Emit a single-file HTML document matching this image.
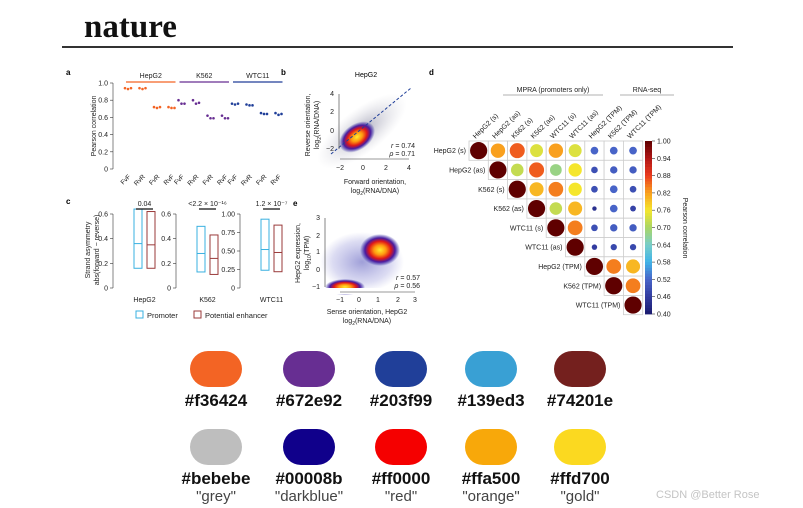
<!DOCTYPE html>
<html><head><meta charset="utf-8"><style>
body{margin:0;background:#fff;width:803px;height:508px;overflow:hidden;font-family:"Liberation Sans",sans-serif}
svg{position:absolute;left:0;top:0}
</style></head><body>
<svg id="s" width="803" height="508" viewBox="0 0 803 508" xmlns="http://www.w3.org/2000/svg" font-family="Liberation Sans, sans-serif">
<defs>
<radialGradient id="gb" cx="50%" cy="50%" r="50%"><stop offset="0" stop-color="#9a9ab0" stop-opacity="0.8"/><stop offset="1" stop-color="#d0d0d8" stop-opacity="0"/></radialGradient>
<radialGradient id="hot" cx="50%" cy="50%" r="50%"><stop offset="0" stop-color="#ffee30"/><stop offset="0.3" stop-color="#ff9a10"/><stop offset="0.55" stop-color="#e01818"/><stop offset="0.75" stop-color="#4a1aa0"/><stop offset="1" stop-color="#2020a0" stop-opacity="0"/></radialGradient>
<radialGradient id="haze" cx="50%" cy="50%" r="50%"><stop offset="0" stop-color="#2a2aa8" stop-opacity="0.45"/><stop offset="0.7" stop-color="#5050c0" stop-opacity="0.2"/><stop offset="1" stop-color="#6060c0" stop-opacity="0"/></radialGradient>
</defs>
<text x="84" y="37" font-family="Liberation Serif, serif" font-weight="bold" font-size="33" fill="#111">nature</text>
<line x1="62" y1="47" x2="733" y2="47" stroke="#333" stroke-width="2"/>
<g id="pa"></g>
<g id="pb">
 <text x="281" y="75" font-size="8" font-weight="bold">b</text>
 <text x="366" y="77" font-size="7" text-anchor="middle">HepG2</text>
 <ellipse cx="362" cy="131" rx="54" ry="22" transform="rotate(-38 362 131)" fill="url(#gb)"/>
 <ellipse cx="357" cy="137" rx="20" ry="13" transform="rotate(-35 357 137)" fill="url(#hot)"/>
 <line x1="331" y1="154" x2="411" y2="88" stroke="#203f99" stroke-width="1" stroke-dasharray="3,2"/>
 <g font-size="7" fill="#222">
 <line x1="339" y1="94" x2="339" y2="149" stroke="#333" stroke-width="0.6"/>
 <text x="334" y="96" text-anchor="end">4</text><text x="334" y="114" text-anchor="end">2</text><text x="334" y="133" text-anchor="end">0</text><text x="334" y="151" text-anchor="end">−2</text>
 <line x1="340" y1="159" x2="409" y2="159" stroke="#333" stroke-width="0.6"/>
 <text x="340" y="170" text-anchor="middle">−2</text><text x="363" y="170" text-anchor="middle">0</text><text x="386" y="170" text-anchor="middle">2</text><text x="409" y="170" text-anchor="middle">4</text>
 <text x="375" y="184" text-anchor="middle">Forward orientation,</text>
 <text x="375" y="193" text-anchor="middle">log<tspan font-size="5" dy="2">2</tspan><tspan dy="-2">(RNA/DNA)</tspan></text>
 <text transform="translate(310 125) rotate(-90)" text-anchor="middle">Reverse orientation,</text>
 <text transform="translate(319 125) rotate(-90)" text-anchor="middle">log<tspan font-size="5" dy="2">2</tspan><tspan dy="-2">(RNA/DNA)</tspan></text>
 <text x="415" y="148" text-anchor="end"><tspan font-style="italic">r</tspan> = 0.74</text>
 <text x="415" y="156" text-anchor="end"><tspan font-style="italic">ρ</tspan> = 0.71</text>
 </g>
</g>
<g id="pe">
 <text x="293" y="206" font-size="8" font-weight="bold">e</text>
 <ellipse cx="362" cy="262" rx="42" ry="30" fill="url(#haze)"/>
 <ellipse cx="380" cy="250" rx="20" ry="16" fill="url(#hot)"/>
 <ellipse cx="345" cy="287" rx="20" ry="8" fill="url(#hot)"/>
 <rect x="318" y="288" width="110" height="6" fill="#fff"/>
 <g font-size="7" fill="#222">
 <line x1="325" y1="218" x2="325" y2="287" stroke="#333" stroke-width="0.6"/>
 <text x="320" y="220" text-anchor="end">3</text><text x="320" y="238" text-anchor="end">2</text><text x="320" y="254" text-anchor="end">1</text><text x="320" y="272" text-anchor="end">0</text><text x="320" y="289" text-anchor="end">−1</text>
 <line x1="340" y1="292" x2="415" y2="292" stroke="#333" stroke-width="0.6"/>
 <text x="340" y="302" text-anchor="middle">−1</text><text x="359" y="302" text-anchor="middle">0</text><text x="378" y="302" text-anchor="middle">1</text><text x="398" y="302" text-anchor="middle">2</text><text x="415" y="302" text-anchor="middle">3</text>
 <text x="367" y="314" text-anchor="middle">Sense orientation, HepG2</text>
 <text x="367" y="323" text-anchor="middle">log<tspan font-size="5" dy="2">2</tspan><tspan dy="-2">(RNA/DNA)</tspan></text>
 <text transform="translate(300 253) rotate(-90)" text-anchor="middle">HepG2 expression,</text>
 <text transform="translate(309 253) rotate(-90)" text-anchor="middle">log<tspan font-size="5" dy="2">10</tspan><tspan dy="-2">(TPM)</tspan></text>
 <text x="420" y="280" text-anchor="end"><tspan font-style="italic">r</tspan> = 0.57</text>
 <text x="420" y="288" text-anchor="end"><tspan font-style="italic">ρ</tspan> = 0.56</text>
 </g>
</g>
<g id="pc"></g>
<g id="pd"></g>

<g font-weight="bold" font-size="17" text-anchor="middle" fill="#111">
 <rect x="190" y="351" width="52" height="36" rx="18" fill="#f36424"/>
 <rect x="283" y="351" width="52" height="36" rx="18" fill="#672e92"/>
 <rect x="375" y="351" width="52" height="36" rx="18" fill="#203f99"/>
 <rect x="465" y="351" width="52" height="36" rx="18" fill="#39a0d4"/>
 <rect x="554" y="351" width="52" height="36" rx="18" fill="#74201e"/>
 <text x="216" y="406">#f36424</text><text x="309" y="406">#672e92</text><text x="401" y="406">#203f99</text><text x="491" y="406">#139ed3</text><text x="580" y="406">#74201e</text>
 <rect x="190" y="429" width="52" height="36" rx="18" fill="#bebebe"/>
 <rect x="283" y="429" width="52" height="36" rx="18" fill="#10008b"/>
 <rect x="375" y="429" width="52" height="36" rx="18" fill="#f50000"/>
 <rect x="465" y="429" width="52" height="36" rx="18" fill="#f8a80a"/>
 <rect x="554" y="429" width="52" height="36" rx="18" fill="#fbd920"/>
 <text x="216" y="484">#bebebe</text><text x="309" y="484">#00008b</text><text x="401" y="484">#ff0000</text><text x="491" y="484">#ffa500</text><text x="580" y="484">#ffd700</text>
 <g font-weight="normal" font-size="15" fill="#444">
 <text x="216" y="501">"grey"</text><text x="309" y="501">"darkblue"</text><text x="401" y="501">"red"</text><text x="491" y="501">"orange"</text><text x="580" y="501">"gold"</text>
 </g>
</g>
<text x="656" y="498" font-size="11" fill="#c4c4c4">CSDN @Better Rose</text>
</svg>
<script>
const NS="http://www.w3.org/2000/svg";
function mk(p,t,a,txt){const e=document.createElementNS(NS,t);for(const k in a)e.setAttribute(k,a[k]);if(txt!==undefined)e.textContent=txt;p.appendChild(e);return e;}

// ---- Panel a data
const aGroups=["HepG2","K562","WTC11"];
const aGroupColors=["#f36424","#672e92","#203f99"];
const aCats=["FvF","RvR","FvR","RvF"];
const aVals=[
 [[0.94,0.93,0.94],[0.94,0.93,0.94],[0.72,0.71,0.72],[0.72,0.71,0.71]],
 [[0.80,0.76,0.76],[0.80,0.76,0.77],[0.62,0.59,0.59],[0.62,0.59,0.59]],
 [[0.76,0.75,0.76],[0.75,0.74,0.74],[0.65,0.64,0.64],[0.65,0.63,0.64]]];
const aTicks=[0,0.2,0.4,0.6,0.8,1.0];

// ---- Panel c data
const cGroups=["HepG2","K562","WTC11"];
const cPvals=["0.04","<2.2 × 10⁻¹⁶","1.2 × 10⁻⁷"];
const cMax=[0.6,0.6,1.0];
const cTicks=[[0,0.2,0.4,0.6],[0,0.2,0.4,0.6],[0,0.25,0.5,0.75,1.0]];
const cPromoter=[[0.16,0.36,0.64],[0.13,0.28,0.50],[0.24,0.52,0.93]];
const cEnhancer=[[0.16,0.35,0.62],[0.11,0.24,0.43],[0.22,0.48,0.85]];

// ---- Panel d data
const dLabels=["HepG2 (s)","HepG2 (as)","K562 (s)","K562 (as)","WTC11 (s)","WTC11 (as)","HepG2 (TPM)","K562 (TPM)","WTC11 (TPM)"];
const dCorr=[
 [1,0.82,0.86,0.74,0.82,0.74,0.52,0.52,0.52],
 [0,1,0.72,0.86,0.68,0.76,0.49,0.51,0.51],
 [0,0,1,0.80,0.84,0.76,0.49,0.52,0.49],
 [0,0,0,1,0.72,0.80,0.44,0.52,0.47],
 [0,0,0,0,1,0.84,0.49,0.51,0.51],
 [0,0,0,0,0,1,0.46,0.48,0.48],
 [0,0,0,0,0,0,1,0.84,0.80],
 [0,0,0,0,0,0,0,1,0.84],
 [0,0,0,0,0,0,0,0,1]];
const dBarTicks=[1.00,0.94,0.88,0.82,0.76,0.70,0.64,0.58,0.52,0.46,0.40];

// ===== draw panel a
(function(){
 const g=document.getElementById('pa');
 const y=v=>169-v*86;
 const x=(gi,ci)=>128+gi*53.5+ci*14.5;
 mk(g,'text',{x:66,y:75,'font-size':8,'font-weight':'bold'},'a');
 mk(g,'line',{x1:113,y1:y(1),x2:113,y2:y(0),stroke:'#333','stroke-width':0.6});
 aTicks.forEach(t=>{
  mk(g,'line',{x1:110,x2:113,y1:y(t),y2:y(t),stroke:'#333','stroke-width':0.6});
  mk(g,'text',{x:108,y:y(t)+2.5,'font-size':7,'text-anchor':'end',fill:'#222'},t===0?'0':t.toFixed(1));
 });
 mk(g,'text',{transform:'translate(96 126) rotate(-90)','font-size':7,'text-anchor':'middle',fill:'#222'},'Pearson correlation');
 aGroups.forEach((gn,gi)=>{
  const l=mk(g,'line',{x1:x(gi,0)-2,x2:x(gi,3)+4,y1:82,y2:82,stroke:aGroupColors[gi],'stroke-width':1.2});
  
  
  mk(g,'text',{x:(x(gi,0)+x(gi,3))/2+1,y:78,'font-size':7,'text-anchor':'middle',fill:'#222'},gn);
  aCats.forEach((c,ci)=>{
   aVals[gi][ci].forEach((v,k)=>{
    const off=[-3,0,3][k];
    const d=mk(g,'circle',{cx:x(gi,ci)+off,cy:y(v),r:1.3,fill:aGroupColors[gi]});
    
    
   });
   mk(g,'text',{transform:`translate(${x(gi,ci)+3} 177) rotate(-45)`,'font-size':6.5,'text-anchor':'end',fill:'#222'},c);
  });
 });
})();

// ===== draw panel c
(function(){
 const g=document.getElementById('pc');
 mk(g,'text',{x:66,y:204,'font-size':8,'font-weight':'bold'},'c');
 const axX=[113,176,240];
 const y=(v,m)=>288-v/m*74;
 cGroups.forEach((gn,gi)=>{
  const ax=axX[gi], m=cMax[gi];
  mk(g,'line',{x1:ax,x2:ax,y1:y(m,m),y2:y(0,m),stroke:'#333','stroke-width':0.6});
  cTicks[gi].forEach(t=>{
   mk(g,'line',{x1:ax-3,x2:ax,y1:y(t,m),y2:y(t,m),stroke:'#333','stroke-width':0.6});
   mk(g,'text',{x:ax-5,y:y(t,m)+2.5,'font-size':7,'text-anchor':'end',fill:'#222'},t===0?'0':(m===1?t.toFixed(2):t.toFixed(1)));
  });
  const bx=[ax+21,ax+34];
  [[cPromoter[gi],'#39b0e0','promoter'],[cEnhancer[gi],'#9a3a3a','enhancer']].forEach((s,si)=>{
   const [lo,med,hi]=s[0];
   const r=mk(g,'rect',{x:bx[si],y:y(hi,m),width:8,height:y(lo,m)-y(hi,m),fill:'none',stroke:s[1],'stroke-width':1});
   
   
   mk(g,'line',{x1:bx[si],x2:bx[si]+8,y1:y(med,m),y2:y(med,m),stroke:s[1],'stroke-width':1});
  });
  mk(g,'line',{x1:bx[0]+2,x2:bx[1]+6,y1:209,y2:209,stroke:'#111','stroke-width':1.2});
  mk(g,'text',{x:(bx[0]+bx[1]+8)/2,y:206,'font-size':7,'text-anchor':'middle',fill:'#222'},cPvals[gi]);
  mk(g,'text',{x:(bx[0]+bx[1]+8)/2,y:302,'font-size':7,'text-anchor':'middle',fill:'#222'},gn);
 });
 mk(g,'text',{transform:'translate(90 250) rotate(-90)','font-size':7,'text-anchor':'middle',fill:'#222'},'Strand asymmetry');
 mk(g,'text',{transform:'translate(99 250) rotate(-90)','font-size':7,'text-anchor':'middle',fill:'#222'},'abs(forward − reverse)');
 const l1=mk(g,'rect',{x:136,y:311,width:7,height:7,fill:'none',stroke:'#39b0e0','stroke-width':1});
 
 
 mk(g,'text',{x:147,y:318,'font-size':7.5,fill:'#222'},'Promoter');
 const l2=mk(g,'rect',{x:194,y:311,width:7,height:7,fill:'none',stroke:'#9a3a3a','stroke-width':1});
 
 
 mk(g,'text',{x:205,y:318,'font-size':7.5,fill:'#222'},'Potential enhancer');
})();

// ===== draw panel d
(function(){
 const g=document.getElementById('pd');
 mk(g,'text',{x:429,y:75,'font-size':8,'font-weight':'bold'},'d');
 const stops=[[0.40,[26,26,110]],[0.46,[50,60,160]],[0.52,[72,100,200]],[0.58,[64,180,232]],[0.64,[120,205,200]],[0.70,[170,214,100]],[0.76,[245,230,44]],[0.82,[249,160,30]],[0.88,[234,58,30]],[0.94,[176,22,22]],[1.0,[95,0,0]]];
 function col(v){v=Math.max(0.4,Math.min(1,v));for(let i=1;i<stops.length;i++){if(v<=stops[i][0]){const a=stops[i-1],b=stops[i],t=(v-a[0])/(b[0]-a[0]);const c=a[1].map((x,k)=>Math.round(x+(b[1][k]-x)*t));return `rgb(${c})`;}}return 'rgb(95,0,0)';}
 const x0=469,y0=141,cs=19.3;
 const rad=v=>8.6*Math.sqrt((v-0.40)/0.6);
 for(let i=0;i<9;i++){
  for(let j=i;j<9;j++){
   mk(g,'rect',{x:x0+j*cs,y:y0+i*cs,width:cs,height:cs,fill:'#fff',stroke:'#ccc','stroke-width':0.8});
   const c=mk(g,'circle',{cx:x0+j*cs+cs/2,cy:y0+i*cs+cs/2,r:rad(dCorr[i][j]),fill:col(dCorr[i][j])});
   
   
  }
  mk(g,'text',{x:x0+i*cs-3,y:y0+i*cs+cs/2+2.5,'font-size':7,'text-anchor':'end',fill:'#222'},dLabels[i]);
  mk(g,'text',{transform:`translate(${x0+i*cs+cs/2-3} ${y0-2}) rotate(-45)`,'font-size':7,fill:'#222'},dLabels[i]);
 }
 const by=v=>y0+(1-v)/0.6*173;
 for(let k=0;k<60;k++){const v=1-k*0.01;mk(g,'rect',{x:645,y:by(v),width:7,height:173/60+0.4,fill:col(v-0.005)});}
 dBarTicks.forEach(t=>{
  mk(g,'line',{x1:652,x2:655,y1:by(t),y2:by(t),stroke:'#333','stroke-width':0.6});
  mk(g,'text',{x:657,y:by(t)+2.5,'font-size':7,fill:'#222'},t.toFixed(2));
 });
 mk(g,'text',{transform:'translate(683 228) rotate(90)','font-size':7,'text-anchor':'middle',fill:'#222'},'Pearson correlation');
 mk(g,'text',{x:553,y:92,'font-size':7,'text-anchor':'middle',fill:'#222'},'MPRA (promoters only)');
 mk(g,'line',{x1:503,x2:603,y1:95,y2:95,stroke:'#999','stroke-width':0.8});
 mk(g,'text',{x:647,y:92,'font-size':7,'text-anchor':'middle',fill:'#222'},'RNA-seq');
 mk(g,'line',{x1:620,x2:674,y1:95,y2:95,stroke:'#999','stroke-width':0.8});
})();
</script>
</body></html>
